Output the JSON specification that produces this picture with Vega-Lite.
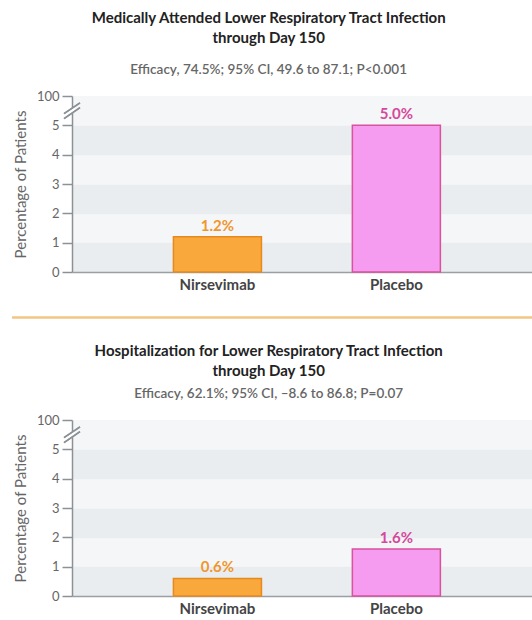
{
  "$schema": "https://vega.github.io/schema/vega-lite/v6.json",
  "padding": {"left": 10, "top": 10, "right": 0, "bottom": 0},
  "background": "white",
  "config": {
    "font": "Lato",
    "view": {"fill": "#f4f6f8", "stroke": null},
    "concat": {"spacing": 24}
  },
  "vconcat": [
    {
      "width": 462,
      "height": 176,
      "title": {
        "text": ["Medically Attended Lower Respiratory Tract Infection", "through Day 150"],
        "subtitle": "Efficacy, 74.5%; 95% CI, 49.6 to 87.1; P<0.001",
        "fontSize": 15, "fontWeight": "bold", "color": "#222", "lineHeight": 20,
        "subtitleFontSize": 13.5, "subtitleColor": "#666", "subtitleFontWeight": 600,
        "subtitlePadding": 17, "offset": 14, "anchor": "middle", "frame": "bounds", "dx": -5
      },
      "data": {"values": [
        {"group": "Nirsevimab", "pct": 1.2, "label": "1.2%"},
        {"group": "Placebo", "pct": 5.0, "label": "5.0%"}
      ]},
      "encoding": {
        "x": {"field": "group", "type": "nominal",
          "scale": {"paddingInner": 0.508, "paddingOuter": 0.545, "align": 0.52},
          "axis": {"title": null, "labelAngle": 0, "ticks": false, "domainColor": "#9a9fa4", "domainWidth": 1.5,
            "labelFontSize": 15, "labelFontWeight": "bold", "labelColor": "#444", "labelPadding": 5}}
      },
      "layer": [
        {
          "mark": {"type": "bar", "strokeWidth": 1.5},
          "encoding": {
            "y": {"field": "pct", "type": "quantitative", "scale": {"domain": [0, 6], "nice": false},
              "axis": {"values": [0, 1, 2, 3, 4, 5, 6], "labelExpr": "datum.value == 6 ? '100' : datum.label",
                "title": "Percentage of Patients", "grid": false, "domainColor": "#8c9196", "domainWidth": 1.5,
                "tickColor": "#8c9196", "tickWidth": 1.5, "tickSize": 10, "labelColor": "#666", "labelFontSize": 13,
                "labelPadding": 3, "titleColor": "#666", "titleFontSize": 15, "titleFontWeight": "normal", "titlePadding": 8}},
            "fill": {"field": "group", "type": "nominal", "scale": {"domain": ["Nirsevimab", "Placebo"], "range": ["#f9a83b", "#f59bf0"]}, "legend": null},
            "stroke": {"field": "group", "type": "nominal", "scale": {"domain": ["Nirsevimab", "Placebo"], "range": ["#e8891f", "#d9529e"]}, "legend": null}
          }
        },
        {
          "mark": {"type": "text", "dy": -11, "fontWeight": "bold", "fontSize": 15},
          "encoding": {
            "y": {"field": "pct", "type": "quantitative",
              "axis": {"orient": "left", "values": [0.5, 2.5, 4.5], "grid": true, "gridWidth": 29.4, "gridColor": "#e9edf0",
                "labels": false, "ticks": false, "domain": false, "title": null}},
            "text": {"field": "label"},
            "color": {"field": "group", "type": "nominal", "scale": {"domain": ["Nirsevimab", "Placebo"], "range": ["#f0962d", "#d6489b"]}, "legend": null}
          }
        },
        {
          "mark": {"type": "point", "shape": "M-0.4,0.572L0.4,0.028L0.4,-0.572L-0.4,-0.028Z", "size": 256, "filled": true, "color": "white", "opacity": 1, "strokeWidth": 0},
          "encoding": {"x": {"value": 0}, "y": {"datum": 5.5, "axis": null}}
        },
        {
          "mark": {"type": "point", "shape": "M-1,0.98L1,-0.38M-1,0.38L1,-0.98", "size": 256, "filled": false, "color": "#8c9196", "opacity": 1, "strokeWidth": 1.5},
          "encoding": {"x": {"value": 0}, "y": {"datum": 5.5, "axis": null}}
        }
      ],
      "resolve": {"axis": {"y": "independent"}}
    },
    {
      "width": 462,
      "height": 1,
      "view": {"fill": null, "stroke": null},
      "data": {"values": [{"a": 0, "b": 1}]},
      "mark": {"type": "rule", "color": "#f3c583", "strokeWidth": 2.5},
      "encoding": {
        "x": {"field": "a", "type": "quantitative", "scale": {"domain": [0, 1], "range": [-60, 462]}, "axis": null},
        "x2": {"field": "b"}
      }
    },
    {
      "width": 462,
      "height": 176,
      "title": {
        "text": ["Hospitalization for Lower Respiratory Tract Infection", "through Day 150"],
        "subtitle": "Efficacy, 62.1%; 95% CI, \u20138.6 to 86.8; P=0.07",
        "fontSize": 15, "fontWeight": "bold", "color": "#222", "lineHeight": 20,
        "subtitleFontSize": 13.5, "subtitleColor": "#666", "subtitleFontWeight": 600,
        "subtitlePadding": 8, "offset": 14, "anchor": "middle", "frame": "bounds", "dx": -5
      },
      "data": {"values": [
        {"group": "Nirsevimab", "pct": 0.6, "label": "0.6%"},
        {"group": "Placebo", "pct": 1.6, "label": "1.6%"}
      ]},
      "encoding": {
        "x": {"field": "group", "type": "nominal",
          "scale": {"paddingInner": 0.508, "paddingOuter": 0.545, "align": 0.52},
          "axis": {"title": null, "labelAngle": 0, "ticks": false, "domainColor": "#9a9fa4", "domainWidth": 1.5,
            "labelFontSize": 15, "labelFontWeight": "bold", "labelColor": "#444", "labelPadding": 5}}
      },
      "layer": [
        {
          "mark": {"type": "bar", "strokeWidth": 1.5},
          "encoding": {
            "y": {"field": "pct", "type": "quantitative", "scale": {"domain": [0, 6], "nice": false},
              "axis": {"values": [0, 1, 2, 3, 4, 5, 6], "labelExpr": "datum.value == 6 ? '100' : datum.label",
                "title": "Percentage of Patients", "grid": false, "domainColor": "#8c9196", "domainWidth": 1.5,
                "tickColor": "#8c9196", "tickWidth": 1.5, "tickSize": 10, "labelColor": "#666", "labelFontSize": 13,
                "labelPadding": 3, "titleColor": "#666", "titleFontSize": 15, "titleFontWeight": "normal", "titlePadding": 8}},
            "fill": {"field": "group", "type": "nominal", "scale": {"domain": ["Nirsevimab", "Placebo"], "range": ["#f9a83b", "#f59bf0"]}, "legend": null},
            "stroke": {"field": "group", "type": "nominal", "scale": {"domain": ["Nirsevimab", "Placebo"], "range": ["#e8891f", "#d9529e"]}, "legend": null}
          }
        },
        {
          "mark": {"type": "text", "dy": -11, "fontWeight": "bold", "fontSize": 15},
          "encoding": {
            "y": {"field": "pct", "type": "quantitative",
              "axis": {"orient": "left", "values": [0.5, 2.5, 4.5], "grid": true, "gridWidth": 29.4, "gridColor": "#e9edf0",
                "labels": false, "ticks": false, "domain": false, "title": null}},
            "text": {"field": "label"},
            "color": {"field": "group", "type": "nominal", "scale": {"domain": ["Nirsevimab", "Placebo"], "range": ["#f0962d", "#d6489b"]}, "legend": null}
          }
        },
        {
          "mark": {"type": "point", "shape": "M-0.4,0.572L0.4,0.028L0.4,-0.572L-0.4,-0.028Z", "size": 256, "filled": true, "color": "white", "opacity": 1, "strokeWidth": 0},
          "encoding": {"x": {"value": 0}, "y": {"datum": 5.5, "axis": null}}
        },
        {
          "mark": {"type": "point", "shape": "M-1,0.98L1,-0.38M-1,0.38L1,-0.98", "size": 256, "filled": false, "color": "#8c9196", "opacity": 1, "strokeWidth": 1.5},
          "encoding": {"x": {"value": 0}, "y": {"datum": 5.5, "axis": null}}
        }
      ],
      "resolve": {"axis": {"y": "independent"}}
    }
  ]
}
